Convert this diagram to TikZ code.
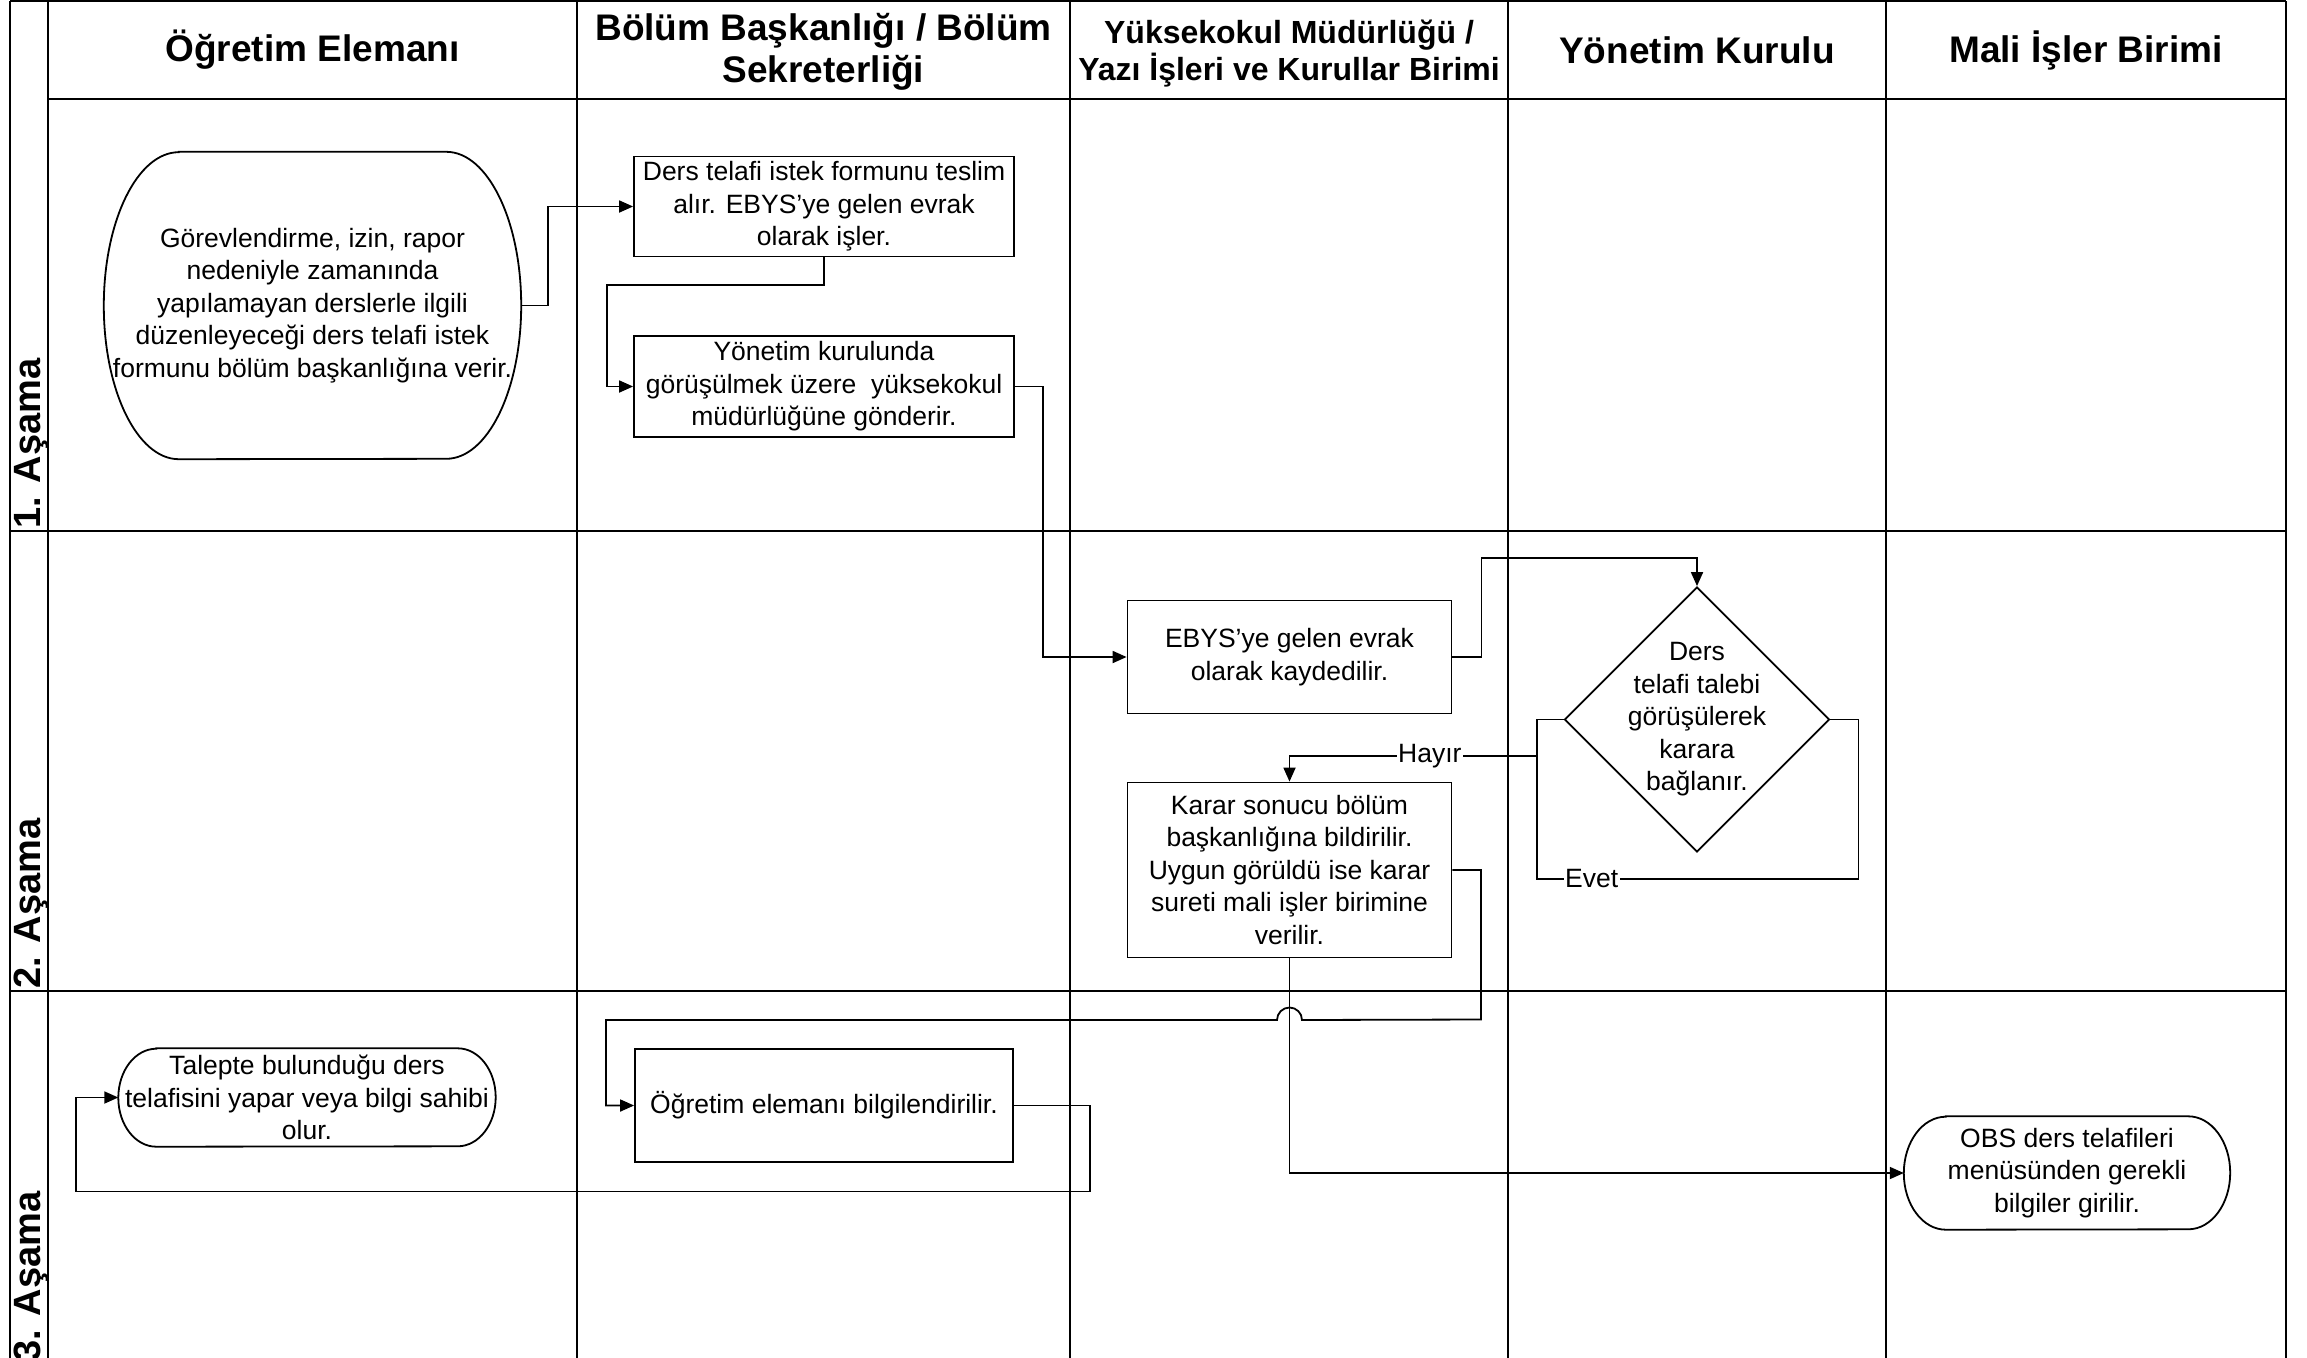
\documentclass[tikz,border=0pt]{standalone}
\usepackage{fontspec}
\setmainfont{Liberation Sans}[Ligatures=NoCommon]
\usetikzlibrary{shapes.geometric,arrows.meta,calc}
\newcommand{\bodyfnt}{\fontsize{26.5}{32.5}\selectfont}
\newcommand{\hdrfnt}{\fontsize{37}{42.5}\selectfont\bfseries}
\newcommand{\hdrsmallfnt}{\fontsize{32}{37}\selectfont\bfseries}
\newcommand{\lanefnt}{\fontsize{38}{44}\selectfont\bfseries}
\newcommand{\termshape}[3]{\draw[shapeline] ([xshift=#2]#1.north west) -- ([xshift=-#2]#1.north east) arc[start angle=90,end angle=-90,x radius=#2,y radius=#3] -- ([xshift=#2]#1.south west) arc[start angle=270,end angle=90,x radius=#2,y radius=#3] -- cycle;}
\begin{document}
\begin{tikzpicture}[x=1pt,y=-1pt,
  gridline/.style={line width=2pt},
  shapeline/.style={line width=1.8pt},
  box/.style={draw, line width=1.8pt, rectangle, inner sep=0pt, align=center, font=\bodyfnt},
  term/.style={rectangle, inner sep=0pt, align=center, font=\bodyfnt},
  conn/.style={line width=1.8pt},
  arr/.style={conn, -{Triangle[length=14pt,width=12pt]}},
  lbl/.style={fill=white, inner sep=1.5pt, font=\bodyfnt},
  hdr/.style={align=center, font=\hdrfnt},
  lane/.style={rotate=90, anchor=base west, inner sep=0pt, font=\lanefnt}]
\useasboundingbox (0,0) rectangle (2307,1357);
% grid
\draw[gridline] (10,1) -- (2286,1);
\draw[gridline] (48,99) -- (2286,99);
\draw[gridline] (10,531) -- (2286,531);
\draw[gridline] (10,991) -- (2286,991);
\foreach \xx in {10,48,577,1070,1508,1886,2286}
  \draw[gridline] (\xx,1) -- (\xx,1360);
% headers
\node[hdr] (h1) at (312.5,50) {Öğretim Elemanı};
\node[hdr] (h2) at (823.5,52) {Bölüm Başkanlığı / Bölüm\\Sekreterliği};
\node[hdr, font=\hdrsmallfnt] (h3) at (1289,54) {Yüksekokul Müdürlüğü /\\Yazı İşleri ve Kurullar Birimi};
\node[hdr] (h4) at (1697,50) {Yönetim Kurulu};
\node[hdr] (h5) at (2086,50) {Mali İşler Birimi};
% lane labels
\node[lane] (l1) at (40,529) {1. Aşama};
\node[lane] (l2) at (40,989) {2. Aşama};
\node[lane] (l3) at (40,1362) {3. Aşama};
% nodes
\node[term, minimum width=417pt, minimum height=307pt] (O) at (312.5,305.5)
  {Görevlendirme, izin, rapor\\nedeniyle zamanında\\yapılamayan derslerle ilgili\\düzenleyeceği ders telafi istek\\formunu bölüm başkanlığına verir.};
\termshape{O}{75pt}{153.5pt}
\node[box, minimum width=380pt, minimum height=100pt] (A) at (824,206.5)
  {Ders telafi istek formunu teslim\\alır. EBYS’ye gelen evrak\\olarak işler.};
\node[box, minimum width=380pt, minimum height=101pt] (B) at (824,386.5)
  {Yönetim kurulunda\\görüşülmek üzere\ \ yüksekokul\\müdürlüğüne gönderir.};
\node[box, minimum width=324pt, minimum height=113pt] (E) at (1289.5,657)
  {EBYS’ye gelen evrak\\olarak kaydedilir.};
\node[draw, diamond, line width=1.8pt, minimum width=265pt, minimum height=265pt, inner sep=0pt,
  label={[align=center, font=\bodyfnt, inner sep=0pt]center:Ders\\telafi talebi\\görüşülerek\\karara\\bağlanır.}] (D) at (1697,719.5) {};
\node[box, minimum width=324pt, minimum height=175pt] (K) at (1289.5,870)
  {Karar sonucu bölüm\\başkanlığına bildirilir.\\Uygun görüldü ise karar\\sureti mali işler birimine\\verilir.};
\node[box, minimum width=378pt, minimum height=113pt] (Ob) at (824,1105.5)
  {Öğretim elemanı bilgilendirilir.};
\node[term, minimum width=377pt, minimum height=98pt] (T) at (307,1097.5)
  {Talepte bulunduğu ders\\telafisini yapar veya bilgi sahibi\\olur.};
\termshape{T}{38pt}{49pt}
\node[term, minimum width=326pt, minimum height=113pt] (S) at (2067,1173)
  {OBS ders telafileri\\menüsünden gerekli\\bilgiler girilir.};
\termshape{S}{42pt}{56.5pt}
% connectors
\draw[arr] (O.east) -- ++(27,0) |- (A.west);
\draw[arr] (A.south) |- (607,285) |- (B.west);
\draw[arr] (B.east) -- ++(28,0) |- (E.west);
\draw[arr] (E.east) -- ++(29,0) |- (1697,558) -- (D.north);
\coordinate (hy) at (1537,756);
\coordinate (hk) at (K.north |- hy);
\coordinate (ev) at (1537,879);
\draw[arr] (D.west) -| (hy) -- node[lbl, pos=0.433]{Hayır} (hk) -- (K.north);
\draw[conn] (D.east) -- ++(28,0) -- ++(0,159.5) -- node[lbl, pos=0.83]{Evet} (ev) -- (hy);
\draw[arr] (K.south) |- (S.west);
\draw[arr] (K.east) -- ++(28.5,0) -- ++(0,149.5) -- (1302,1020) arc[start angle=0, end angle=180, radius=12.5pt] -- (606,1020) |- (Ob.west);
\draw[arr] (Ob.east) -- ++(76,0) -- ++(0,86) -- (76,1191.5) |- (T.west);
\end{tikzpicture}
\end{document}
